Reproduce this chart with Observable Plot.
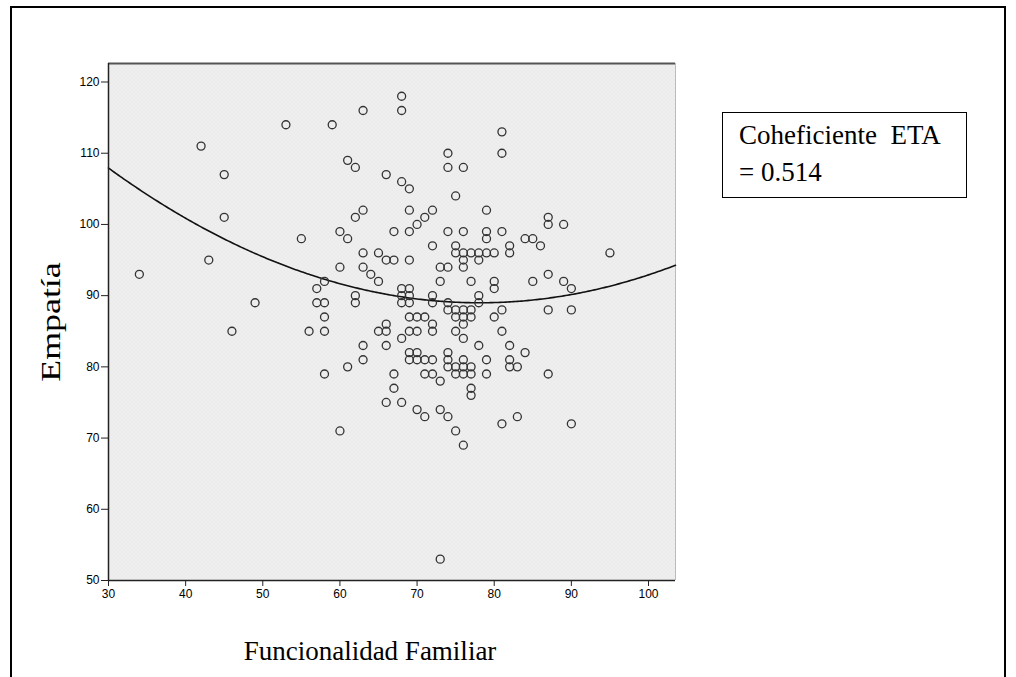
<!DOCTYPE html>
<html>
<head>
<meta charset="utf-8">
<script src="https://cdn.jsdelivr.net/npm/d3@7"></script>
<script src="https://cdn.jsdelivr.net/npm/@observablehq/plot@0.6"></script>
<style>
  body { margin: 0; background: #fff; }
  #wrap { position: relative; width: 1016px; height: 677px; overflow: hidden; background: #fff; }
  #frame { position: absolute; left: 10px; top: 6px; width: 996px; height: 720px; border: 2px solid #000; box-sizing: border-box; }
  #chart { position: absolute; left: 0; top: 0; }
  .serif { position: absolute; font-family: "Liberation Serif", "Times New Roman", serif; font-size: 27px; color: #000; white-space: pre; line-height: 1; }
  #xtitle { left: 370px; top: 638px; transform: translateX(-50%); }
  #ytitle { left: 51px; top: 322px; font-size: 28px; transform: translate(-50%, -50%) rotate(-90deg) scaleX(1.28); }
  #eta { left: 722px; top: 112px; width: 245px; height: 86px; box-sizing: border-box; border: 1px solid #000; background: #fff;
         padding: 4px 0 0 16px; line-height: 37px; }
</style>
</head>
<body>
<div id="wrap">
  <div id="frame"></div>
  <div id="chart"></div>
  <div class="serif" id="xtitle">Funcionalidad Familiar</div>
  <div class="serif" id="ytitle">Empatía</div>
  <div class="serif" id="eta"><div>Coheficiente  ETA</div><div>= 0.514</div></div>
</div>
<script>
// Family functioning score (x) and empathy score (y), one entry per case
const funcionalidad = [
  34, 42, 43, 45, 45, 46, 49, 53, 55, 56, 57, 57,
  58, 58, 58, 58, 58, 59, 60, 60, 60, 61, 61, 61,
  62, 62, 62, 62, 63, 63, 63, 63, 63, 63, 64,
  65, 65, 65, 66, 66, 66, 66, 66, 66, 67, 67, 67, 67,
  68, 68, 68, 68, 68, 68, 68, 68,
  69, 69, 69, 69, 69, 69, 69, 69, 69, 69, 69,
  70, 70, 70, 70, 70, 70, 71, 71, 71, 71, 71,
  72, 72, 72, 72, 72, 72, 72, 72, 73, 73, 73, 73, 73,
  74, 74, 74, 74, 74, 74, 74, 74, 74, 74,
  75, 75, 75, 75, 75, 75, 75, 75, 75,
  76, 76, 76, 76, 76, 76, 76, 76, 76, 76, 76, 76, 76,
  77, 77, 77, 77, 77, 77, 77, 77, 78, 78, 78, 78, 78,
  79, 79, 79, 79, 79, 79, 80, 80, 80, 80,
  81, 81, 81, 81, 81, 81, 82, 82, 82, 82, 82, 83, 83,
  84, 84, 85, 85, 86, 87, 87, 87, 87, 87, 89, 89, 90, 90, 90, 95
];
const empatia = [
  93, 111, 95, 107, 101, 85, 89, 114, 98, 85, 91, 89,
  92, 89, 87, 85, 79, 114, 99, 94, 71, 109, 98, 80,
  108, 101, 90, 89, 116, 102, 96, 94, 83, 81, 93,
  96, 92, 85, 107, 95, 86, 85, 83, 75, 99, 95, 79, 77,
  118, 116, 106, 91, 90, 89, 84, 75,
  105, 102, 99, 95, 91, 90, 89, 87, 85, 82, 81,
  100, 87, 85, 82, 81, 74, 101, 87, 81, 79, 73,
  102, 97, 90, 89, 86, 85, 81, 79, 94, 92, 78, 74, 53,
  110, 108, 99, 94, 89, 88, 82, 81, 80, 73,
  104, 97, 96, 88, 87, 85, 80, 79, 71,
  108, 99, 96, 95, 94, 88, 87, 86, 84, 81, 80, 79, 69,
  96, 92, 88, 87, 80, 79, 77, 76, 96, 95, 90, 89, 83,
  102, 99, 98, 96, 81, 79, 96, 92, 91, 87,
  113, 110, 99, 88, 85, 72, 97, 96, 83, 81, 80, 80, 73,
  98, 82, 98, 92, 97, 101, 100, 93, 88, 79, 100, 92, 91, 88, 72, 96
];

// Axis ticks and ranges
const xTicks = [30, 40, 50, 60, 70, 80, 90, 100];
const yTicks = [50, 60, 70, 80, 90, 100, 110, 120];
const xDomain = [30, 103.5];
const yDomain = [50, 122.6];

const cases = funcionalidad.map((f, i) => ({funcionalidad: f, empatia: empatia[i]}));

// Least-squares quadratic fit y = a + b x + c x^2
function quadraticFit(xs, ys) {
  const n = xs.length;
  let s1 = 0, s2 = 0, s3 = 0, s4 = 0, t0 = 0, t1 = 0, t2 = 0;
  for (let i = 0; i < n; i++) {
    const x = xs[i], y = ys[i], x2 = x * x;
    s1 += x; s2 += x2; s3 += x2 * x; s4 += x2 * x2;
    t0 += y; t1 += x * y; t2 += x2 * y;
  }
  const M = [[n, s1, s2, t0], [s1, s2, s3, t1], [s2, s3, s4, t2]];
  for (let c = 0; c < 3; c++) {
    for (let r = c + 1; r < 3; r++) {
      const f = M[r][c] / M[c][c];
      for (let k = c; k < 4; k++) M[r][k] -= f * M[c][k];
    }
  }
  const coef = [0, 0, 0];
  for (let r = 2; r >= 0; r--) {
    let s = M[r][3];
    for (let k = r + 1; k < 3; k++) s -= M[r][k] * coef[k];
    coef[r] = s / M[r][r];
  }
  return x => coef[0] + coef[1] * x + coef[2] * x * x;
}

const fit = quadraticFit(funcionalidad, empatia);
const fitLine = d3.range(xDomain[0], xDomain[1] + 0.001, 0.25).map(x => ({funcionalidad: x, empatia: fit(x)}));

const chart = Plot.plot({
  width: 1016,
  height: 677,
  marginLeft: 108,
  marginRight: 341,
  marginTop: 63,
  marginBottom: 97,
  style: {background: "transparent", color: "#000", fontFamily: "'Liberation Sans Narrow', 'Liberation Sans', Arial, sans-serif", fontSize: "12px"},
  x: {domain: xDomain},
  y: {domain: yDomain},
  marks: [
    Plot.frame({fill: "url(#dotted-panel)", stroke: null}),
    Plot.ruleY([yDomain[1]], {stroke: "#555", strokeWidth: 2}),
    Plot.ruleX([xDomain[1]], {stroke: "#bbb", strokeWidth: 1}),
    Plot.line(fitLine, {x: "funcionalidad", y: "empatia", stroke: "#111", strokeWidth: 1.6}),
    Plot.dot(cases, {x: "funcionalidad", y: "empatia", r: 4, fill: "none", stroke: "#333", strokeWidth: 1.3}),
    Plot.ruleX([xDomain[0]], {stroke: "#222", strokeWidth: 1.5}),
    Plot.ruleY([yDomain[0]], {stroke: "#222", strokeWidth: 1.5}),
    Plot.axisX(xTicks, {tickSize: 6, tickPadding: 3, label: null, stroke: "#222"}),
    Plot.axisY(yTicks, {tickSize: 7, tickPadding: 2, label: null, stroke: "#222"})
  ]
});

// Light grey panel fill with a fine white dot texture
const defs = d3.select(chart).insert("defs", ":first-child");
const pat = defs.append("pattern").attr("id", "dotted-panel").attr("patternUnits", "userSpaceOnUse").attr("width", 4).attr("height", 4);
pat.append("rect").attr("width", 4).attr("height", 4).attr("fill", "#ebebeb");
pat.append("rect").attr("x", 1).attr("y", 1).attr("width", 1).attr("height", 1).attr("fill", "#fbfbfb");
pat.append("rect").attr("x", 3).attr("y", 3).attr("width", 1).attr("height", 1).attr("fill", "#fbfbfb");

document.getElementById("chart").append(chart);
</script>
</body>
</html>
